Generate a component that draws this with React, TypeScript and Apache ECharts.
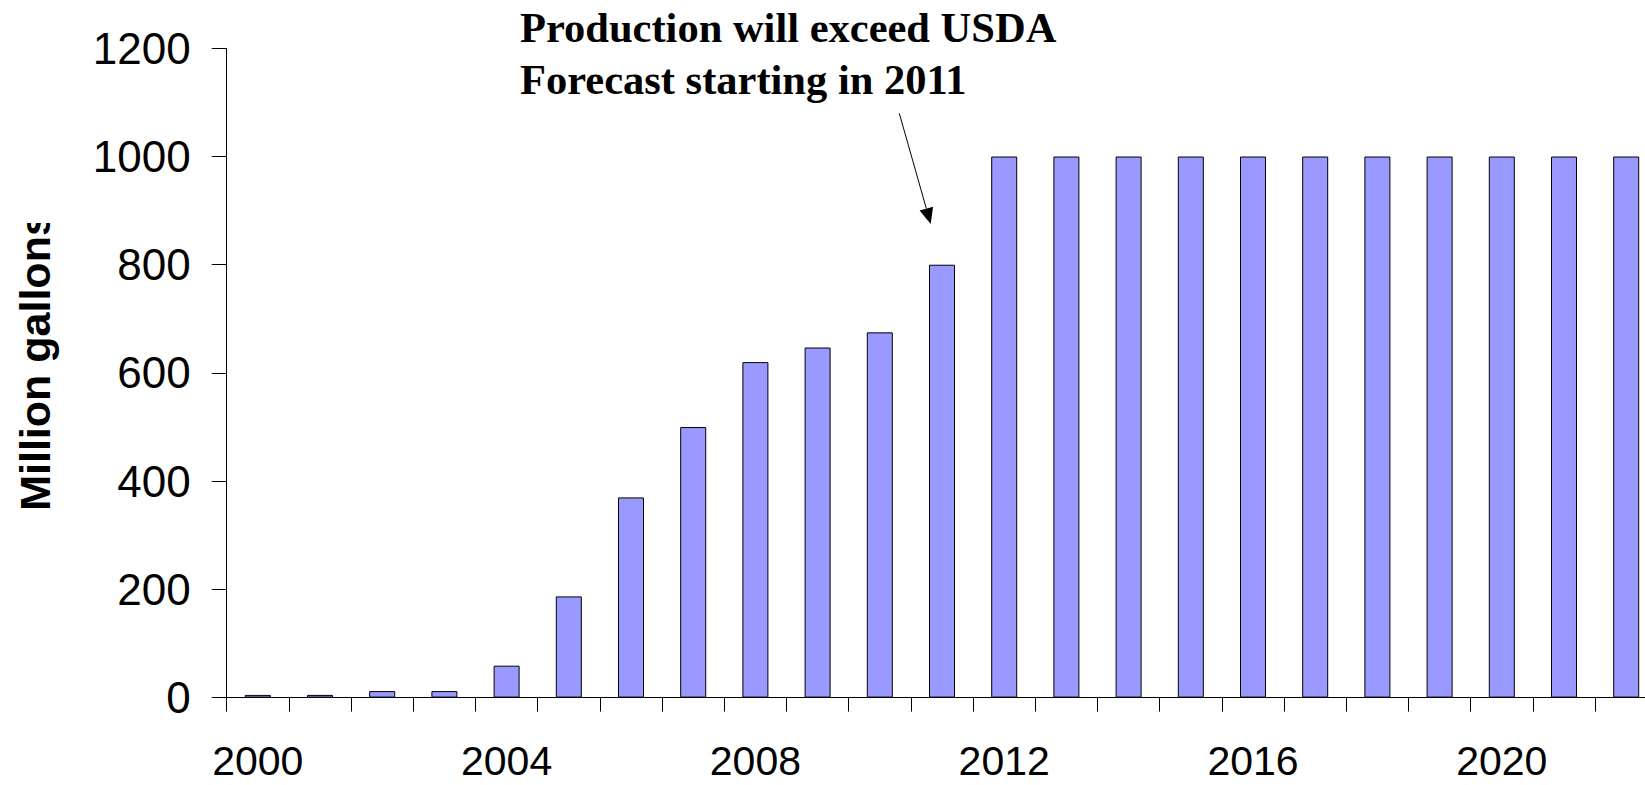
import React, { useEffect, useRef } from "react";
import * as echarts from "echarts";

// Annual production, million gallons
const years: string[] = [
  "2000", "2001", "2002", "2003", "2004", "2005", "2006", "2007",
  "2008", "2009", "2010", "2011", "2012", "2013", "2014", "2015",
  "2016", "2017", "2018", "2019", "2020", "2021", "2022",
];
const production: number[] = [
  5, 5, 12, 12, 59, 187, 370, 500,
  620, 647, 675, 800, 1000, 1000, 1000, 1000,
  1000, 1000, 1000, 1000, 1000, 1000, 1000,
];
const yTicks = { min: 0, max: 1200, interval: 200 };
const yTitle = "Million gallons";
const noteLines: string[] = ["Production will exceed USDA", "Forecast starting in 2011"];

const SANS = "'Liberation Sans', Arial, Helvetica, sans-serif";
const SERIF = "'Liberation Serif', 'Times New Roman', Times, serif";

export default function App() {
  const ref = useRef<HTMLDivElement>(null);

  useEffect(() => {
    if (!ref.current) return;
    const chart = echarts.init(ref.current, undefined, { renderer: "svg" });

    // arrow from the note down toward the 2011 bar
    const start = [899.3, 113.3];
    const tip = [930.7, 224];
    const dx = tip[0] - start[0];
    const dy = tip[1] - start[1];
    const len = Math.hypot(dx, dy);
    const ux = dx / len;
    const uy = dy / len;
    const headLen = 16;
    const headHalf = 7;
    const base = [tip[0] - ux * headLen, tip[1] - uy * headLen];

    chart.setOption({
      animation: false,
      backgroundColor: "#ffffff",
      grid: {
        left: 226.7,
        right: -12.3,
        top: 48.3,
        bottom: 87.4,
        containLabel: false,
        outerBoundsMode: "none",
      },
      xAxis: {
        type: "category",
        data: years,
        boundaryGap: true,
        axisLine: { show: true, lineStyle: { color: "#000", width: 1 } },
        axisTick: { show: true, interval: 0, length: 14, lineStyle: { color: "#000", width: 1 } },
        axisLabel: {
          interval: 3,
          margin: 48,
          color: "#000",
          fontFamily: SANS,
          fontSize: 41,
          lineHeight: 30,
        },
        splitLine: { show: false },
      },
      yAxis: {
        type: "value",
        min: yTicks.min,
        max: yTicks.max,
        interval: yTicks.interval,
        axisLine: { show: true, lineStyle: { color: "#000", width: 1 } },
        axisTick: { show: true, length: 15, lineStyle: { color: "#000", width: 1 } },
        axisLabel: {
          margin: 36,
          color: "#000",
          fontFamily: SANS,
          fontSize: 44,
          padding: [0, 0, 8, 0],
          formatter: (v: number) => String(v),
        },
        splitLine: { show: false },
      },
      series: [
        {
          type: "bar",
          data: production,
          barWidth: 26,
          itemStyle: { color: "#9999FF", borderColor: "#000", borderWidth: 1 },
        },
      ],
      graphic: [
        {
          type: "text",
          x: 35,
          y: 361.5,
          rotation: Math.PI / 2,
          style: {
            text: yTitle,
            fill: "#000",
            font: `bold 43px ${SANS}`,
            align: "center",
            verticalAlign: "middle",
          },
          z: 10,
        },
        // the title box ends just past the final letter
        {
          type: "rect",
          shape: { x: 0, y: 150, width: 70, height: 73 },
          style: { fill: "#ffffff" },
          z: 11,
        },
        {
          type: "text",
          x: 520,
          y: 1,
          style: {
            text: noteLines.join("\n"),
            fill: "#000",
            font: `bold 42.5px ${SERIF}`,
            lineHeight: 52,
            align: "left",
            verticalAlign: "top",
          },
          z: 10,
        },
        {
          type: "line",
          shape: { x1: start[0], y1: start[1], x2: base[0], y2: base[1] },
          style: { stroke: "#000", lineWidth: 1 },
          z: 10,
        },
        {
          type: "polygon",
          shape: {
            points: [
              [tip[0], tip[1]],
              [base[0] - uy * headHalf, base[1] + ux * headHalf],
              [base[0] + uy * headHalf, base[1] - ux * headHalf],
            ],
          },
          style: { fill: "#000" },
          z: 10,
        },
      ],
    });

    return () => chart.dispose();
  }, []);

  return (
    <div
      ref={ref}
      style={{ position: "fixed", left: 0, top: 0, width: 1645, height: 785 }}
    />
  );
}
